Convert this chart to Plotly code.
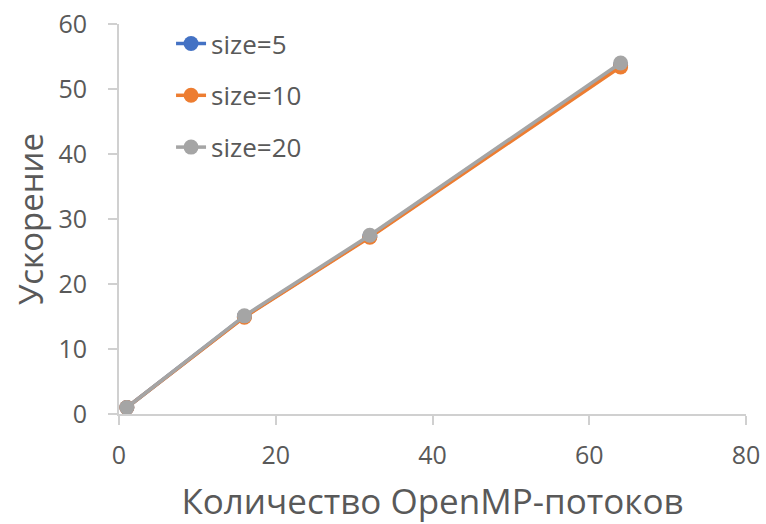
import plotly.graph_objects as go

threads = [1, 16, 32, 64]
speedup_5 = [1.0, 15.0, 27.3, 53.6]
speedup_10 = [1.0, 14.9, 27.2, 53.4]
speedup_20 = [1.0, 15.1, 27.5, 54.0]

series = [
    ("size=5", speedup_5, "#4472C4"),
    ("size=10", speedup_10, "#ED7D31"),
    ("size=20", speedup_20, "#A5A5A5"),
]

fig = go.Figure()
for name, vals, color in series:
    fig.add_trace(go.Scatter(
        x=threads, y=vals, name=name, mode="lines+markers",
        legendgroup=name,
        line=dict(color=color, width=3.5),
        marker=dict(color=color, size=15),
    ))

text_color = "#595959"
axis_color = "#D0D0D0"
font_family = "Open Sans, Noto Sans, sans-serif"

fig.update_layout(
    width=766, height=524,
    margin=dict(l=119, r=20, t=24, b=110),
    plot_bgcolor="white", paper_bgcolor="white",
    font=dict(family=font_family, color=text_color, size=25),
    showlegend=True,
    legend=dict(
        x=0.083, y=1.01, xanchor="left", yanchor="top",
        font=dict(size=26, color=text_color),
        tracegroupgap=15,
        bgcolor="rgba(0,0,0,0)",
    ),
    xaxis=dict(
        range=[0, 80], tickvals=[0, 20, 40, 60, 80],
        showgrid=False, zeroline=False, automargin=False,
        showline=True, linecolor=axis_color, linewidth=2,
        ticks="outside", tickcolor=axis_color, ticklen=9, tickwidth=2,
        ticklabelstandoff=9,
        tickfont=dict(size=25, color=text_color),
        title=dict(text="Количество OpenMP-потоков", font=dict(size=35, color=text_color), standoff=20),
    ),
    yaxis=dict(
        range=[0, 60], tickvals=[0, 10, 20, 30, 40, 50, 60],
        showgrid=False, zeroline=False, automargin=False,
        showline=True, linecolor=axis_color, linewidth=2,
        ticks="outside", tickcolor=axis_color, ticklen=9, tickwidth=2,
        ticklabelstandoff=16,
        tickfont=dict(size=25, color=text_color),
        title=dict(text="Ускорение", font=dict(size=33, color=text_color), standoff=5),
    ),
)

fig.write_html("out.html")
